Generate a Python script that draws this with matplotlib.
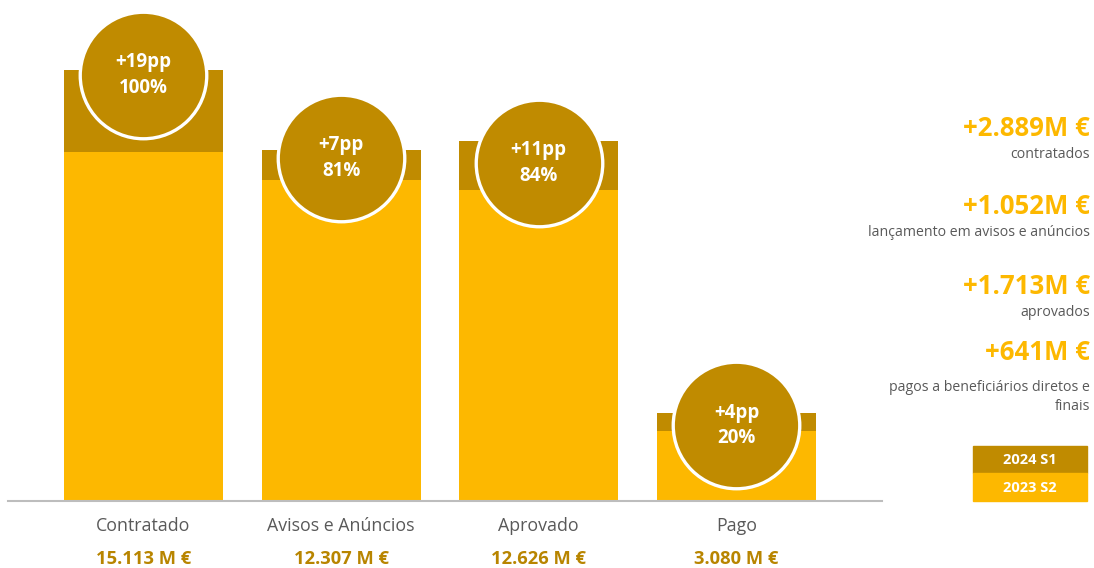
import matplotlib.pyplot as plt
from matplotlib.patches import Rectangle
import matplotlib.transforms as mtransforms

plt.rcParams['font.family'] = ['Open Sans', 'DejaVu Sans']

# data (M €)
categories = ['Contratado', 'Avisos e Anúncios', 'Aprovado', 'Pago']
total_2024s1 = [15.113, 12.307, 12.626, 3.080]
delta = [2.889, 1.052, 1.713, 0.641]
base_2023s2 = [t - d for t, d in zip(total_2024s1, delta)]
value_labels = ['15.113 M €', '12.307 M €', '12.626 M €', '3.080 M €']
pp_change = ['+19pp', '+7pp', '+11pp', '+4pp']
pct = ['100%', '81%', '84%', '20%']

side_heads = ['+2.889M €', '+1.052M €', '+1.713M €', '+641M €']
side_subs = ['contratados', 'lançamento em avisos e anúncios', 'aprovados',
             'pagos a beneficiários diretos e\nfinais']

dark = '#C08B00'
light = '#FDB800'
gray = '#595959'

fig = plt.figure(figsize=(10.94, 5.68), dpi=100)
ax = fig.add_axes([8 / 1094, 67 / 568, 874 / 1094, 491 / 568])

x = list(range(len(categories)))
ax.bar(x, total_2024s1, width=0.805, color=dark, zorder=1)
ax.bar(x, base_2023s2, width=0.805, color=light, zorder=2)

ax.set_xlim(-0.685, 3.736)
ax.set_ylim(0, 17.22)
for s in ['top', 'right', 'left']:
    ax.spines[s].set_visible(False)
ax.spines['bottom'].set_color('#BDBDBD')
ax.spines['bottom'].set_linewidth(1.5)
ax.set_xticks([])
ax.set_yticks([])

# badge circles, dropped a few pixels below each bar top
badge_drop = [5, 8, 22, 12]
for i in x:
    off = mtransforms.ScaledTranslation(0, -badge_drop[i] / 100, fig.dpi_scale_trans)
    tr = ax.transData + off
    ax.scatter([i], [total_2024s1[i]], s=8300, color=dark, edgecolors='white',
               linewidths=2.4, zorder=5, transform=tr, clip_on=False)
    ax.text(i, total_2024s1[i], pp_change[i] + '\n' + pct[i], transform=tr,
            ha='center', va='center', color='white', fontsize=13.5,
            fontweight='bold', linespacing=1.35, zorder=6)

xt = ax.get_xaxis_transform()
for i in x:
    ax.text(i, -25 / 491, categories[i], transform=xt, ha='center', va='center',
            color=gray, fontsize=12.8)
    ax.text(i, -58 / 491, value_labels[i], transform=xt, ha='center', va='center',
            color='#B88500', fontsize=13.2, fontweight='bold')

# right-hand annotations
head_y = [128, 207, 287, 352]
sub_y = [154, 233, 313, 397]
for h, s, hy, sy in zip(side_heads, side_subs, head_y, sub_y):
    fig.text(1090 / 1094, 1 - hy / 568, h, ha='right', va='center',
             color=light, fontsize=18.5, fontweight='bold')
    fig.text(1090 / 1094, 1 - sy / 568, s, ha='right', va='center',
             color=gray, fontsize=10.2, multialignment='right', linespacing=1.35)

# legend boxes
fig.patches.append(Rectangle((973 / 1094, 1 - 473 / 568), 114 / 1094, 27 / 568,
                             transform=fig.transFigure, color=dark))
fig.patches.append(Rectangle((973 / 1094, 1 - 501 / 568), 114 / 1094, 28 / 568,
                             transform=fig.transFigure, color=light))
fig.text(1030 / 1094, 1 - 460 / 568, '2024 S1', ha='center', va='center',
         color='white', fontsize=10.5, fontweight='bold')
fig.text(1030 / 1094, 1 - 488 / 568, '2023 S2', ha='center', va='center',
         color='white', fontsize=10.5, fontweight='bold')

fig.savefig('out.png', dpi=100, facecolor='white')
